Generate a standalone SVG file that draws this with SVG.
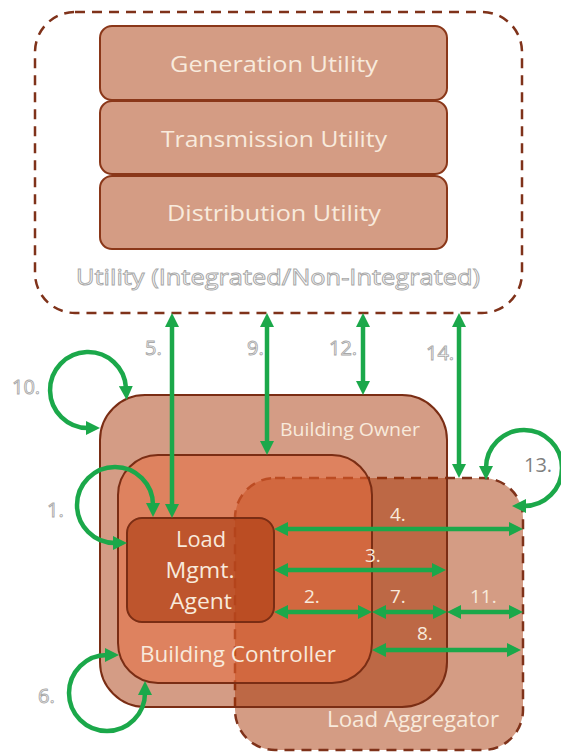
<svg xmlns="http://www.w3.org/2000/svg" width="561" height="752" viewBox="0 0 561 752">
<defs>
<marker id="ah" viewBox="0 0 14 14" refX="2" refY="7" markerWidth="14" markerHeight="14" markerUnits="userSpaceOnUse" orient="auto-start-reverse">
<path d="M0,0 L14,7 L0,14 z" fill="#1ba84a"/>
</marker>
<style>
.ubox{fill:#d49c84;stroke:#8a3719;stroke-width:2}
.dash{stroke:#7f321a;stroke-width:2.5;stroke-dasharray:10 7}
.lbl{font-family:"Open Sans","Noto Sans",sans-serif;fill:#f8eadc;text-anchor:middle}
.out{font-family:"Open Sans","Noto Sans",sans-serif;fill:#ffffff;stroke:#a8a8a8;stroke-width:0.9}
.num{font-family:"Open Sans","Noto Sans",sans-serif;fill:#f8eadc;font-size:19px}
.arr{fill:none;stroke:#1ba84a;stroke-width:4.5;marker-start:url(#ah);marker-end:url(#ah)}
</style>
</defs>
<rect width="561" height="752" fill="#ffffff"/>

<g id="utility">
<rect x="35" y="12" width="487" height="301" rx="40" fill="#ffffff" class="dash"/>
<text class="out" x="278" y="285" font-size="22" text-anchor="middle" textLength="404" lengthAdjust="spacingAndGlyphs">Utility (Integrated/Non-Integrated)</text>
</g>
<g id="generation">
<rect class="ubox" x="100" y="26" width="347" height="74" rx="12"/>
<text class="lbl" x="274" y="72" font-size="22" textLength="208" lengthAdjust="spacingAndGlyphs">Generation Utility</text>
</g>
<g id="transmission">
<rect class="ubox" x="100" y="101" width="347" height="73" rx="12"/>
<text class="lbl" x="274" y="147" font-size="22" textLength="226" lengthAdjust="spacingAndGlyphs">Transmission Utility</text>
</g>
<g id="distribution">
<rect class="ubox" x="100" y="176" width="347" height="73" rx="12"/>
<text class="lbl" x="274" y="221" font-size="22" textLength="214" lengthAdjust="spacingAndGlyphs">Distribution Utility</text>
</g>

<g id="load-aggregator">
<rect x="235" y="478" width="288" height="272" rx="40" fill="#d49c84" class="dash"/>
</g>
<g id="building-owner">
<rect x="100" y="395" width="347" height="312" rx="45" fill="#a53100" fill-opacity="0.48" stroke="#7a2d14" stroke-width="2"/>
</g>
<g id="building-controller">
<rect x="118" y="455" width="254" height="228" rx="40" fill="#e8683a" fill-opacity="0.5" stroke="#7a2d14" stroke-width="2"/>
</g>
<g id="load-mgmt-agent">
<rect x="127" y="518" width="147" height="104" rx="15" fill="#b04218" fill-opacity="0.7" stroke="#7a2d14" stroke-width="2"/>
<text class="lbl" x="201" y="547" font-size="22" textLength="50" lengthAdjust="spacingAndGlyphs">Load</text>
<text class="lbl" x="200" y="578" font-size="22" textLength="69" lengthAdjust="spacingAndGlyphs">Mgmt.</text>
<text class="lbl" x="201" y="609" font-size="22" textLength="62" lengthAdjust="spacingAndGlyphs">Agent</text>
</g>
<g id="labels">
<text class="lbl" x="350" y="436" font-size="19" textLength="140" lengthAdjust="spacingAndGlyphs">Building Owner</text>
<text class="lbl" x="238" y="662" font-size="21" textLength="196" lengthAdjust="spacingAndGlyphs">Building Controller</text>
<text class="lbl" x="413" y="727" font-size="21" textLength="172" lengthAdjust="spacingAndGlyphs">Load Aggregator</text>
</g>

<g id="connectors">
<line class="arr" x1="172" y1="325" x2="172" y2="506"/>
<line class="arr" x1="267" y1="325" x2="267" y2="443"/>
<line class="arr" x1="363" y1="325" x2="363" y2="383"/>
<line class="arr" x1="459" y1="325" x2="459" y2="466"/>
<line class="arr" x1="286" y1="529" x2="511" y2="529"/>
<line class="arr" x1="286" y1="570" x2="434" y2="570"/>
<line class="arr" x1="286" y1="612" x2="360" y2="612"/>
<line class="arr" x1="384" y1="612" x2="435" y2="612"/>
<line class="arr" x1="459" y1="612" x2="511" y2="612"/>
<line class="arr" x1="384" y1="650" x2="509" y2="650"/>
<path class="arr" d="M126,388 A38,38 0 1 0 88,428"/>
<path class="arr" d="M153,505 A38,38 0 1 0 115,543"/>
<path class="arr" d="M107,655 A38,38 0 1 0 145,693"/>
<path class="arr" d="M486,468 A38,38 0 1 1 524,506"/>
<text class="num" x="390" y="521">4.</text>
<text class="num" x="365" y="562">3.</text>
<text class="num" x="304" y="603">2.</text>
<text class="num" x="390" y="603">7.</text>
<text class="num" x="470" y="603">11.</text>
<text class="num" x="417" y="640">8.</text>
<text class="out" x="145" y="355" font-size="20">5.</text>
<text class="out" x="247" y="355" font-size="20">9.</text>
<text class="out" x="329" y="355" font-size="20">12.</text>
<text class="out" x="426" y="360" font-size="20">14.</text>
<text class="out" x="12" y="394" font-size="20">10.</text>
<text class="out" x="47" y="517" font-size="20">1.</text>
<text class="out" x="38" y="703" font-size="20">6.</text>
<text x="524" y="472" font-size="20" fill="#7f7f7f" font-family="Open Sans, Noto Sans, sans-serif">13.</text>
</g>
</svg>
